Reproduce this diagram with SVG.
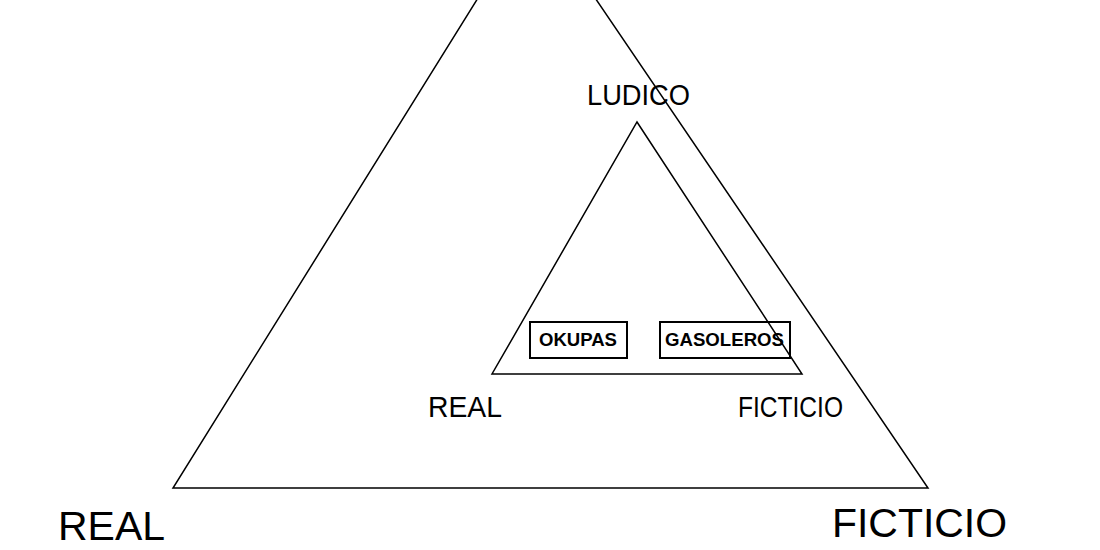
<svg xmlns="http://www.w3.org/2000/svg" width="1100" height="550" viewBox="0 0 1100 550">
<style>
.ln{fill:none;stroke:#000;stroke-width:1.5;stroke-linejoin:miter}
.t{font-family:"Liberation Sans",Arial,sans-serif;fill:#000}
.b{font-family:"Liberation Sans",Arial,sans-serif;font-weight:bold;font-size:18px;fill:#000}
.box{fill:#fff;stroke:#000;stroke-width:2}
</style>
<rect width="1100" height="550" fill="#fff"/>
<g id="connectors">
<polygon class="ln" points="534,-92 928,488 173,488"/>
<polygon class="ln" points="637,122 802,374 492,374"/>
</g>
<g id="okupas">
<rect class="box" x="530" y="322" width="97" height="36" fill="none" style="fill:none"/>
<text class="b" x="539" y="346" textLength="78" lengthAdjust="spacingAndGlyphs">OKUPAS</text>
</g>
<g id="gasoleros">
<rect class="box" x="660" y="322" width="130" height="36" style="fill:none"/>
<text class="b" x="665" y="346" textLength="119" lengthAdjust="spacingAndGlyphs">GASOLEROS</text>
</g>
<g id="ludico">
<text class="t" x="587" y="105" font-size="29" textLength="103" lengthAdjust="spacingAndGlyphs">LUDICO</text>
</g>
<g id="real-inner">
<text class="t" x="428" y="417" font-size="29" textLength="74" lengthAdjust="spacingAndGlyphs">REAL</text>
</g>
<g id="ficticio-inner">
<text class="t" x="738" y="417" font-size="29" textLength="105" lengthAdjust="spacingAndGlyphs">FICTICIO</text>
</g>
<g id="real-outer">
<text class="t" x="58" y="540" font-size="41" textLength="107" lengthAdjust="spacingAndGlyphs">REAL</text>
</g>
<g id="ficticio-outer">
<text class="t" x="832" y="537" font-size="41" textLength="175" lengthAdjust="spacingAndGlyphs">FICTICIO</text>
</g>
</svg>
